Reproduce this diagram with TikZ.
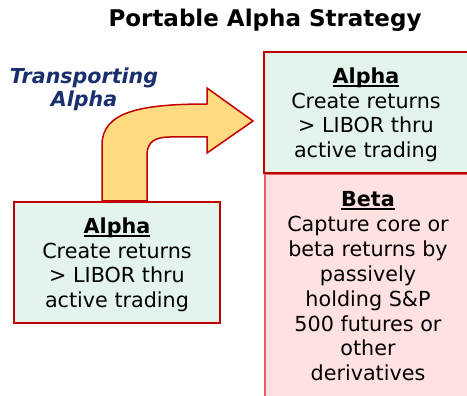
\documentclass[tikz,border=0pt]{standalone}
\usepackage{fontspec}
\setmainfont{DejaVu Sans}
\definecolor{boxred}{HTML}{C00000}
\definecolor{lightred}{HTML}{E06262}
\definecolor{alphagreen}{HTML}{E3F4EA}
\definecolor{betapink}{HTML}{FFE1E1}
\definecolor{arrowyellow}{HTML}{FFDA80}
\definecolor{navy}{HTML}{1A2F6E}
\newcommand\myul[1]{\setbox0\hbox{#1}\rlap{\rule[-4pt]{\wd0}{1.8pt}}\box0}
\tikzset{
  boxtext/.style={anchor=base, align=center, inner sep=0pt, font=\fontsize{20.7}{25}\selectfont},
  alphabox/.style={fill=alphagreen, draw=boxred, line width=2pt},
  betabox/.style={fill=betapink, draw=lightred, line width=1.2pt},
}
\begin{document}
\begin{tikzpicture}[x=1pt,y=-1pt]
\useasboundingbox (0,0) rectangle (467,396);
% title
\node[anchor=base, inner sep=0pt, font=\fontsize{23}{28}\selectfont\bfseries] (title) at (265,27) {Portable Alpha Strategy};
% transporting label (base anchor = last line baseline)
\node[anchor=base, align=center, inner sep=0pt, text=navy, font=\fontsize{20.6}{24}\selectfont\bfseries\itshape] (trans) at (84,107) {Transporting\\Alpha};
% right boxes
\path[betabox] (265,174) rectangle (472,402);
\path[alphabox] (264,52) rectangle (472,173);
\node[boxtext] (ralpha) at (366,158) {\bfseries\myul{Alpha}\\Create returns\\> LIBOR thru\\active trading};
\node[boxtext] (beta) at (368,381) {\bfseries\myul{Beta}\\Capture core or\\beta returns by\\passively\\holding S\&P\\500 futures or\\other\\derivatives};
% arrow
\path[fill=arrowyellow, draw=boxred, line width=1.5pt, line join=miter]
  (102,201) -- (102,145) .. controls (102,112) and (140,104) .. (207,104)
  -- (207,88) -- (253,121) -- (207,153) -- (207,137)
  -- (170,137) .. controls (155,137) and (147,142) .. (147,155) -- (147,201) -- cycle;
% left box
\path[alphabox] (14,202) rectangle (220,323);
\node[boxtext] (lalpha) at (117,308) {\bfseries\myul{Alpha}\\Create returns\\> LIBOR thru\\active trading};
\end{tikzpicture}
\end{document}
